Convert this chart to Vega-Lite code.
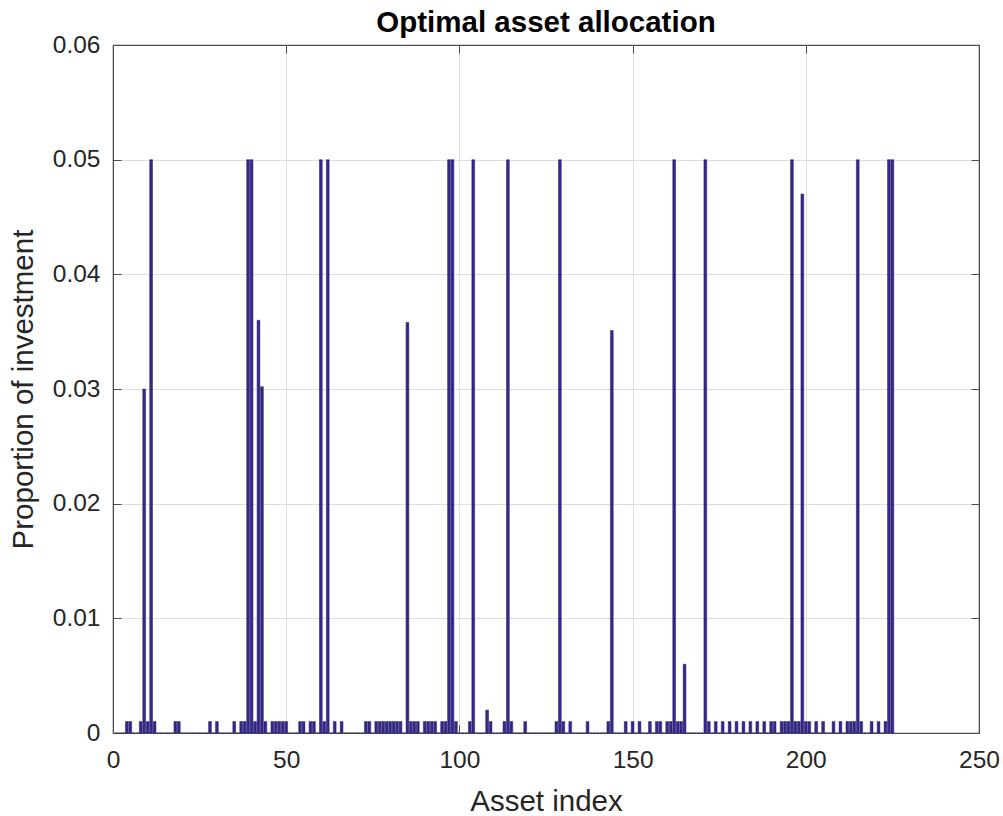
{
  "$schema": "https://vega.github.io/schema/vega-lite/v6.json",
  "autosize": {"type": "none"},
  "padding": {"left": 113, "top": 45, "right": 24, "bottom": 83},
  "width": 866,
  "height": 688,
  "title": {"text": "Optimal asset allocation", "font": "Liberation Sans", "fontSize": 29.5, "fontWeight": "bold", "color": "#000000", "anchor": "middle", "offset": -6},
  "config": {
    "view": {"stroke": "#4d4d4d", "strokeWidth": 1.2},
    "scale": {"continuousPadding": 0},
    "axis": {"labelFont": "Liberation Sans", "titleFont": "Liberation Sans", "labelFontSize": 24.5, "titleFontSize": 29.5, "titleFontWeight": "normal", "labelColor": "#262626", "titleColor": "#262626", "gridColor": "#dedede", "gridWidth": 1, "domainColor": "#4d4d4d", "tickColor": "#4d4d4d", "labelFlush": false}
  },
  "data": {"values": [
    {"i":1,"w":0},{"i":2,"w":0},{"i":3,"w":0},{"i":4,"w":0.001},{"i":5,"w":0.001},{"i":6,"w":0},{"i":7,"w":0},{"i":8,"w":0.001},{"i":9,"w":0.03},{"i":10,"w":0.001},
    {"i":11,"w":0.05},{"i":12,"w":0.001},{"i":13,"w":0},{"i":14,"w":0},{"i":15,"w":0},{"i":16,"w":0},{"i":17,"w":0},{"i":18,"w":0.001},{"i":19,"w":0.001},{"i":20,"w":0},
    {"i":21,"w":0},{"i":22,"w":0},{"i":23,"w":0},{"i":24,"w":0},{"i":25,"w":0},{"i":26,"w":0},{"i":27,"w":0},{"i":28,"w":0.001},{"i":29,"w":0},{"i":30,"w":0.001},
    {"i":31,"w":0},{"i":32,"w":0},{"i":33,"w":0},{"i":34,"w":0},{"i":35,"w":0.001},{"i":36,"w":0},{"i":37,"w":0.001},{"i":38,"w":0.001},{"i":39,"w":0.05},{"i":40,"w":0.05},
    {"i":41,"w":0.001},{"i":42,"w":0.036},{"i":43,"w":0.0302},{"i":44,"w":0.001},{"i":45,"w":0},{"i":46,"w":0.001},{"i":47,"w":0.001},{"i":48,"w":0.001},{"i":49,"w":0.001},{"i":50,"w":0.001},
    {"i":51,"w":0},{"i":52,"w":0},{"i":53,"w":0},{"i":54,"w":0.001},{"i":55,"w":0.001},{"i":56,"w":0},{"i":57,"w":0.001},{"i":58,"w":0.001},{"i":59,"w":0},{"i":60,"w":0.05},
    {"i":61,"w":0.001},{"i":62,"w":0.05},{"i":63,"w":0},{"i":64,"w":0.001},{"i":65,"w":0},{"i":66,"w":0.001},{"i":67,"w":0},{"i":68,"w":0},{"i":69,"w":0},{"i":70,"w":0},
    {"i":71,"w":0},{"i":72,"w":0},{"i":73,"w":0.001},{"i":74,"w":0.001},{"i":75,"w":0},{"i":76,"w":0.001},{"i":77,"w":0.001},{"i":78,"w":0.001},{"i":79,"w":0.001},{"i":80,"w":0.001},
    {"i":81,"w":0.001},{"i":82,"w":0.001},{"i":83,"w":0.001},{"i":84,"w":0},{"i":85,"w":0.0358},{"i":86,"w":0.001},{"i":87,"w":0.001},{"i":88,"w":0.001},{"i":89,"w":0},{"i":90,"w":0.001},
    {"i":91,"w":0.001},{"i":92,"w":0.001},{"i":93,"w":0.001},{"i":94,"w":0},{"i":95,"w":0.001},{"i":96,"w":0.001},{"i":97,"w":0.05},{"i":98,"w":0.05},{"i":99,"w":0.001},{"i":100,"w":0},
    {"i":101,"w":0},{"i":102,"w":0},{"i":103,"w":0.001},{"i":104,"w":0.05},{"i":105,"w":0},{"i":106,"w":0},{"i":107,"w":0},{"i":108,"w":0.002},{"i":109,"w":0.001},{"i":110,"w":0},
    {"i":111,"w":0},{"i":112,"w":0},{"i":113,"w":0.001},{"i":114,"w":0.05},{"i":115,"w":0.001},{"i":116,"w":0},{"i":117,"w":0},{"i":118,"w":0},{"i":119,"w":0.001},{"i":120,"w":0},
    {"i":121,"w":0},{"i":122,"w":0},{"i":123,"w":0},{"i":124,"w":0},{"i":125,"w":0},{"i":126,"w":0},{"i":127,"w":0},{"i":128,"w":0.001},{"i":129,"w":0.05},{"i":130,"w":0.001},
    {"i":131,"w":0},{"i":132,"w":0.001},{"i":133,"w":0},{"i":134,"w":0},{"i":135,"w":0},{"i":136,"w":0},{"i":137,"w":0.001},{"i":138,"w":0},{"i":139,"w":0},{"i":140,"w":0},
    {"i":141,"w":0},{"i":142,"w":0},{"i":143,"w":0.001},{"i":144,"w":0.0351},{"i":145,"w":0},{"i":146,"w":0},{"i":147,"w":0},{"i":148,"w":0.001},{"i":149,"w":0},{"i":150,"w":0.001},
    {"i":151,"w":0},{"i":152,"w":0.001},{"i":153,"w":0},{"i":154,"w":0},{"i":155,"w":0.001},{"i":156,"w":0},{"i":157,"w":0.001},{"i":158,"w":0.001},{"i":159,"w":0},{"i":160,"w":0.001},
    {"i":161,"w":0.001},{"i":162,"w":0.05},{"i":163,"w":0.001},{"i":164,"w":0.001},{"i":165,"w":0.006},{"i":166,"w":0},{"i":167,"w":0},{"i":168,"w":0},{"i":169,"w":0},{"i":170,"w":0},
    {"i":171,"w":0.05},{"i":172,"w":0.001},{"i":173,"w":0},{"i":174,"w":0.001},{"i":175,"w":0},{"i":176,"w":0.001},{"i":177,"w":0},{"i":178,"w":0.001},{"i":179,"w":0},{"i":180,"w":0.001},
    {"i":181,"w":0},{"i":182,"w":0.001},{"i":183,"w":0},{"i":184,"w":0.001},{"i":185,"w":0},{"i":186,"w":0.001},{"i":187,"w":0},{"i":188,"w":0.001},{"i":189,"w":0},{"i":190,"w":0.001},
    {"i":191,"w":0.001},{"i":192,"w":0},{"i":193,"w":0.001},{"i":194,"w":0.001},{"i":195,"w":0.001},{"i":196,"w":0.05},{"i":197,"w":0.001},{"i":198,"w":0.001},{"i":199,"w":0.047},{"i":200,"w":0.001},
    {"i":201,"w":0.001},{"i":202,"w":0},{"i":203,"w":0.001},{"i":204,"w":0},{"i":205,"w":0.001},{"i":206,"w":0},{"i":207,"w":0},{"i":208,"w":0.001},{"i":209,"w":0},{"i":210,"w":0.001},
    {"i":211,"w":0},{"i":212,"w":0.001},{"i":213,"w":0.001},{"i":214,"w":0.001},{"i":215,"w":0.05},{"i":216,"w":0.001},{"i":217,"w":0},{"i":218,"w":0},{"i":219,"w":0.001},{"i":220,"w":0},
    {"i":221,"w":0.001},{"i":222,"w":0},{"i":223,"w":0.001},{"i":224,"w":0.05},{"i":225,"w":0.05}
  ]},
  "layer": [
    {
      "mark": {"type": "bar", "width": 2.8, "color": "#352a87", "stroke": "#231c6e", "strokeWidth": 0.5},
      "encoding": {
        "x": {"field": "i", "type": "quantitative", "scale": {"domain": [0, 250], "nice": false, "zero": false, "padding": 0},
              "axis": {"title": "Asset index", "values": [0, 50, 100, 150, 200, 250], "tickSize": -8, "labelPadding": 23, "titlePadding": 16, "grid": true, "domain": true}},
        "y": {"field": "w", "type": "quantitative", "scale": {"domain": [0, 0.06], "nice": false, "padding": 0},
              "axis": {"title": "Proportion of investment", "values": [0, 0.01, 0.02, 0.03, 0.04, 0.05, 0.06], "labelExpr": "datum.value == 0 ? '0' : format(datum.value, '.2f')", "tickSize": -8, "labelPadding": 21, "titlePadding": 14, "grid": true, "domain": true}}
      }
    },
    {
      "mark": {"type": "bar", "width": 2.8, "opacity": 0},
      "encoding": {
        "x": {"field": "i", "type": "quantitative", "axis": {"orient": "top", "title": null, "labels": false, "values": [0, 50, 100, 150, 200, 250], "tickSize": -8, "grid": false}},
        "y": {"field": "w", "type": "quantitative", "axis": {"orient": "right", "title": null, "labels": false, "values": [0, 0.01, 0.02, 0.03, 0.04, 0.05, 0.06], "tickSize": -8, "grid": false}}
      }
    }
  ],
  "resolve": {"axis": {"x": "independent", "y": "independent"}}
}
